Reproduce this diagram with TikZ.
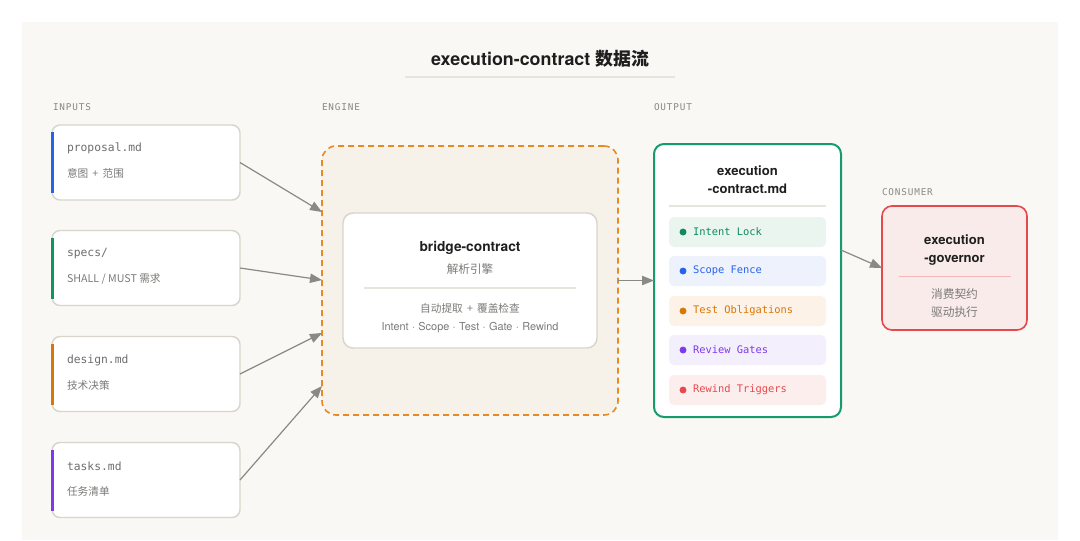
\documentclass[tikz,border=0pt]{standalone}
\usepackage{fontspec}
\setmainfont{TeX Gyre Heros}
\setmonofont{DejaVu Sans Mono}
\newfontfamily\cjk{Noto Sans CJK SC}
\newfontfamily\lblfont[LetterSpace=9]{DejaVu Sans Mono}
\usetikzlibrary{arrows.meta}
\definecolor{panel}{HTML}{F9F8F4}
\definecolor{boxline}{HTML}{D9D5CB}
\definecolor{engfill}{HTML}{F6F1E9}
\definecolor{engline}{HTML}{E88A24}
\definecolor{dark}{HTML}{1E1E1E}
\definecolor{sub}{HTML}{7A7A78}
\definecolor{lbl}{HTML}{8A8883}
\definecolor{arrowc}{HTML}{8A8A85}
\definecolor{rule}{HTML}{E7E4DD}
\definecolor{accblue}{HTML}{2563EB}
\definecolor{accgreen}{HTML}{0E9466}
\definecolor{accorange}{HTML}{D97706}
\definecolor{accpurple}{HTML}{7C3AED}
\definecolor{accred}{HTML}{E5484D}
\definecolor{outline}{HTML}{169B6E}
\definecolor{rgreen}{HTML}{EAF5EF}
\definecolor{rblue}{HTML}{EEF2FD}
\definecolor{rorange}{HTML}{FCF2E8}
\definecolor{rpurple}{HTML}{F3EFFC}
\definecolor{rred}{HTML}{FDEEEE}
\definecolor{tgreen}{HTML}{0E8A5F}
\definecolor{conline}{HTML}{E5484D}
\definecolor{confill}{HTML}{F9EBE9}
\definecolor{conrule}{HTML}{F2B8B8}
\tikzset{
  every node/.style={outer sep=0pt},
  inbox/.style={draw=boxline, line width=1.1pt, fill=white, rounded corners=6pt, minimum width=141pt, minimum height=56.25pt, inner sep=0pt},
  fname/.style={font=\ttfamily\fontsize{8.5pt}{10pt}\selectfont, text=sub!90!black, anchor=west, inner sep=0pt},
  fsub/.style={font=\cjk\fontsize{8pt}{9pt}\selectfont, text=sub, anchor=west, inner sep=0pt},
  seclabel/.style={font=\lblfont\fontsize{7pt}{8pt}\selectfont, text=lbl, anchor=west, inner sep=0pt},
  arr/.style={draw=arrowc, line width=0.9pt, -{Triangle[length=9pt,width=7pt]}},
  row/.style={rounded corners=3.75pt, minimum width=117.75pt, minimum height=22.5pt, inner sep=0pt},
  rowtext/.style={font=\ttfamily\fontsize{7.8pt}{9pt}\selectfont, anchor=west, inner sep=0pt},
  ttl/.style={font=\bfseries\fontsize{9.8pt}{12pt}\selectfont, text=dark, align=center, inner sep=0pt},
  gsub/.style={font=\cjk\fontsize{8.7pt}{10pt}\selectfont, text=sub, inner sep=0pt},
}
\newcommand{\mdot}{\hspace{2.5pt}·\hspace{2.5pt}}
\begin{document}
\begin{tikzpicture}[x=0.75pt,y=-0.75pt]
\useasboundingbox (0,0) rectangle (1080,540);
\fill[white] (0,0) rectangle (1080,540);
\fill[panel] (22,22) rectangle (1058,540);

% title
\node[inner sep=0pt, text=dark] (title) at (540,59) {\fontsize{13.4pt}{15pt}\selectfont\bfseries execution-contract {\cjk 数据流}};
\draw[rule, line width=0.8pt] (405,77) -- (675,77);

% section labels
\node[seclabel] (lin) at (53,107) {INPUTS};
\node[seclabel] (leng) at (322,107) {ENGINE};
\node[seclabel] (lout) at (654,107) {OUTPUT};
\node[seclabel] (lcon) at (882,192) {CONSUMER};

% inputs
\node[inbox] (in1) at (146,162.5) {};
\node[inbox] (in2) at (146,268) {};
\node[inbox] (in3) at (146,374) {};
\node[inbox] (in4) at (146,480) {};
\foreach \n/\c in {in1/accblue,in2/accgreen,in3/accorange,in4/accpurple}{
  \fill[\c] ([xshift=-0.5pt,yshift=-5.25pt]\n.north west) rectangle ([xshift=1.8pt,yshift=5.25pt]\n.south west);
}
\node[fname] (in1t) at (67,148) {proposal.md};
\node[fsub] (in1s) at (67,173) {意图 \,+\, 范围};
\node[fname] (in2t) at (67,254) {specs/};
\node[fsub] (in2s) at (67,279) {SHALL / MUST 需求};
\node[fname] (in3t) at (67,360) {design.md};
\node[fsub] (in3s) at (67,385) {技术决策};
\node[fname] (in4t) at (67,466) {tasks.md};
\node[fsub] (in4s) at (67,491) {任务清单};

% engine
\node[draw=engline, fill=engfill, line width=1.2pt, dash pattern=on 4.5pt off 3pt, rounded corners=10.5pt, minimum width=222pt, minimum height=201.75pt, inner sep=0pt] (engine) at (470,280.5) {};
\node[draw=boxline, fill=white, line width=1.1pt, rounded corners=7.5pt, minimum width=190.5pt, minimum height=101.25pt, inner sep=0pt] (bridge) at (470,280.5) {};
\node[ttl, font=\bfseries\fontsize{10.3pt}{12pt}\selectfont] (bt) at (470,248) {bridge-contract};
\node[gsub] (bs) at (470,269) {解析引擎};
\draw[rule, line width=0.8pt] (364,288) -- (576,288);
\node[gsub, font=\cjk\fontsize{8pt}{9pt}\selectfont] (bd) at (470,308) {自动提取 \,+\, 覆盖检查};
\node[inner sep=0pt, text=sub, font=\fontsize{8.2pt}{9pt}\selectfont] (bl) at (470,328) {Intent\mdot Scope\mdot Test\mdot Gate\mdot Rewind};

% output
\node[draw=outline, fill=white, line width=1.5pt, rounded corners=7.5pt, minimum width=140.25pt, minimum height=204.75pt, inner sep=0pt] (out) at (747.5,280.5) {};
\node[ttl] (ot) at (747.5,179.5) {execution\\[1.5pt]-contract.md};
\draw[rule, line width=0.8pt] (669,206) -- (826,206);
\foreach \i/\y/\f/\t/\s in {1/232/rgreen/tgreen/Intent Lock, 2/271/rblue/accblue/Scope Fence, 3/311/rorange/accorange/Test Obligations, 4/350/rpurple/accpurple/Review Gates, 5/390/rred/accred/Rewind Triggers}{
  \node[row, fill=\f] (r\i) at (747.5,\y) {};
  \fill[\t] (683,\y) circle (2.6pt);
  \node[rowtext, text=\t] (r\i t) at (693,\y) {\s};
}

% consumer
\node[draw=conline, fill=confill, line width=1.2pt, rounded corners=7.5pt, minimum width=108.75pt, minimum height=93pt, inner sep=0pt] (con) at (954.5,268) {};
\node[ttl] (ct) at (954.5,250.5) {execution\\[1.5pt]-governor};
\draw[conrule, line width=0.7pt] (899,276) -- (1011,276);
\node[gsub, align=center, font=\cjk\fontsize{8.8pt}{13.5pt}\selectfont] (cs) at (954.5,303) {消费契约\\驱动执行};

% connectors
\draw[arr] (in1.east) -- (engine.west |- 0,212);
\draw[arr] (in2.east) -- (engine.west |- 0,280);
\draw[arr] (in3.east) -- (engine.west |- 0,333);
\draw[arr] (in4.east) -- (engine.west |- 0,386);
\draw[arr] (engine.east) -- (out.west);
\draw[arr] (out.east |- 0,250) -- (con.west);
\end{tikzpicture}
\end{document}
